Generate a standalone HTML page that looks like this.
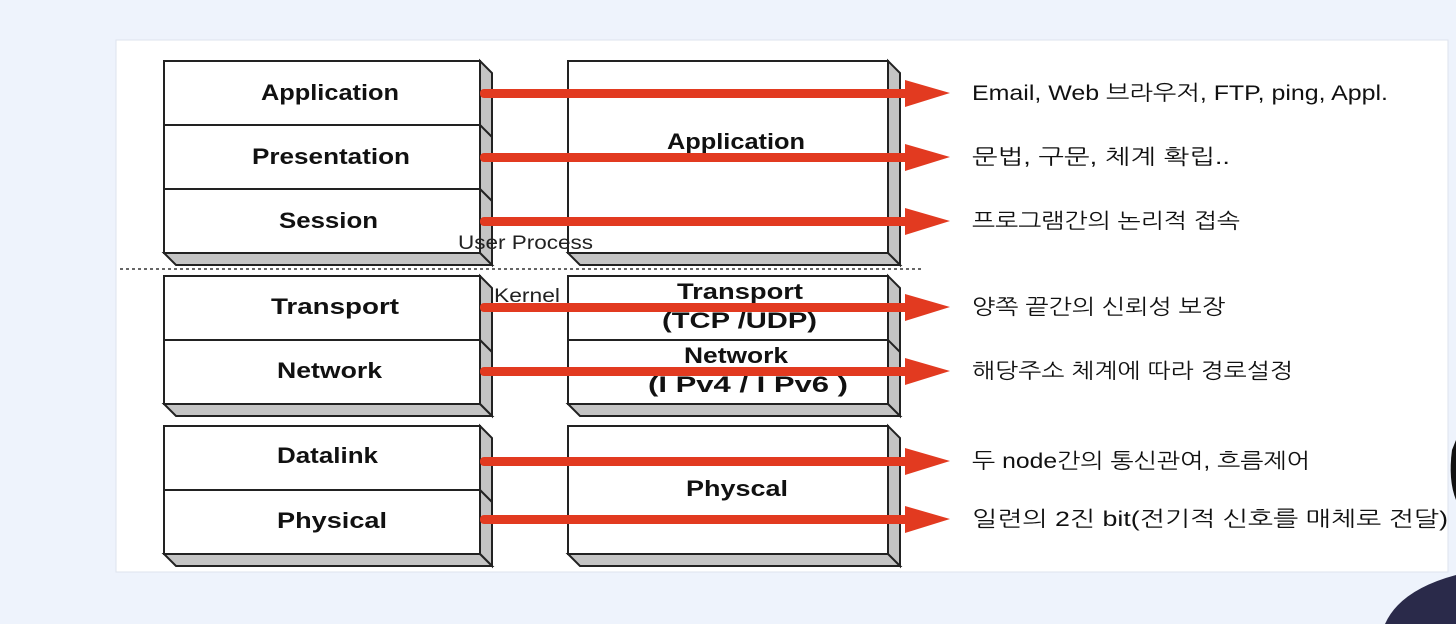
<!DOCTYPE html>
<html><head><meta charset="utf-8"><style>
html,body{margin:0;padding:0;background:#eef3fc;}
svg{display:block}
</style></head><body>
<svg width="1456" height="624" viewBox="0 0 1456 624" xmlns="http://www.w3.org/2000/svg" font-family="Liberation Sans, NanumGothic, Noto Sans CJK KR, sans-serif">
<rect x="0" y="0" width="1456" height="624" fill="#eef3fc"/>
<rect x="116" y="40" width="1332" height="532" fill="#fff" stroke="#dde3ee"/>
<g stroke="#222" stroke-width="2" fill="#c4c4c4">
 <polygon points="480,61 492,73 492,265 480,253"/><polygon points="164,253 480,253 492,265 176,265"/>
 <rect x="164" y="61" width="316" height="192" fill="#fff"/>
 <line x1="164" y1="125" x2="480" y2="125"/><line x1="164" y1="189" x2="480" y2="189"/>
 <line x1="480" y1="125" x2="492" y2="137"/><line x1="480" y1="189" x2="492" y2="201"/>
 <polygon points="480,276 492,288 492,416 480,404"/><polygon points="164,404 480,404 492,416 176,416"/>
 <rect x="164" y="276" width="316" height="128" fill="#fff"/>
 <line x1="164" y1="340" x2="480" y2="340"/><line x1="480" y1="340" x2="492" y2="352"/>
 <polygon points="480,426 492,438 492,566 480,554"/><polygon points="164,554 480,554 492,566 176,566"/>
 <rect x="164" y="426" width="316" height="128" fill="#fff"/>
 <line x1="164" y1="490" x2="480" y2="490"/><line x1="480" y1="490" x2="492" y2="502"/>
 <polygon points="888,61 900,73 900,265 888,253"/><polygon points="568,253 888,253 900,265 580,265"/>
 <rect x="568" y="61" width="320" height="192" fill="#fff"/>
 <polygon points="888,276 900,288 900,416 888,404"/><polygon points="568,404 888,404 900,416 580,416"/>
 <rect x="568" y="276" width="320" height="128" fill="#fff"/>
 <line x1="568" y1="340" x2="888" y2="340"/><line x1="888" y1="340" x2="900" y2="352"/>
 <polygon points="888,426 900,438 900,566 888,554"/><polygon points="568,554 888,554 900,566 580,566"/>
 <rect x="568" y="426" width="320" height="128" fill="#fff"/>
</g>
<line x1="120" y1="269" x2="922" y2="269" stroke="#333" stroke-width="1.5" stroke-dasharray="3,3"/>
<g font-weight="bold" font-size="22" fill="#111">
 <text x="261" y="100" textLength="138" lengthAdjust="spacingAndGlyphs">Application</text>
 <text x="252" y="164" textLength="158" lengthAdjust="spacingAndGlyphs">Presentation</text>
 <text x="279" y="228" textLength="99" lengthAdjust="spacingAndGlyphs">Session</text>
 <text x="271" y="314" textLength="128" lengthAdjust="spacingAndGlyphs">Transport</text>
 <text x="277" y="378" textLength="105" lengthAdjust="spacingAndGlyphs">Network</text>
 <text x="277" y="463" textLength="101" lengthAdjust="spacingAndGlyphs">Datalink</text>
 <text x="277" y="528" textLength="110" lengthAdjust="spacingAndGlyphs">Physical</text>
 <text x="667" y="149" textLength="138" lengthAdjust="spacingAndGlyphs">Application</text>
 <text x="677" y="299" textLength="126" lengthAdjust="spacingAndGlyphs">Transport</text>
 <text x="662" y="328" textLength="155" lengthAdjust="spacingAndGlyphs">(TCP /UDP)</text>
 <text x="684" y="363" textLength="104" lengthAdjust="spacingAndGlyphs">Network</text>
 <text x="648" y="392" textLength="200" lengthAdjust="spacingAndGlyphs">(I Pv4 / I Pv6 )</text>
 <text x="686" y="496" textLength="102" lengthAdjust="spacingAndGlyphs">Physcal</text>
</g>
<g font-size="19" fill="#222">
 <text x="458" y="249" textLength="135" lengthAdjust="spacingAndGlyphs">User Process</text>
 <text x="494" y="302" textLength="66" lengthAdjust="spacingAndGlyphs">Kernel</text>
</g>
<g fill="#e23a20" stroke="none">
 <g id="a"><rect x="480" y="89" width="430" height="9" rx="4"/><polygon points="905,80 950,93 905,107"/></g>
 <use href="#a" y="64"/><use href="#a" y="128"/><use href="#a" y="214"/><use href="#a" y="278"/><use href="#a" y="368"/><use href="#a" y="426"/>
</g>
<g font-size="21" fill="#111">
 <text x="972" y="100" textLength="416" lengthAdjust="spacingAndGlyphs">Email, Web 브라우저, FTP, ping, Appl.</text>
 <text x="972" y="164" textLength="258" lengthAdjust="spacingAndGlyphs">문법, 구문, 체계 확립..</text>
 <text x="972" y="228" textLength="268" lengthAdjust="spacingAndGlyphs">프로그램간의 논리적 접속</text>
 <text x="972" y="314" textLength="253" lengthAdjust="spacingAndGlyphs">양쪽 끝간의 신뢰성 보장</text>
 <text x="972" y="378" textLength="321" lengthAdjust="spacingAndGlyphs">해당주소 체계에 따라 경로설정</text>
 <text x="972" y="468" textLength="338" lengthAdjust="spacingAndGlyphs">두 node간의 통신관여, 흐름제어</text>
 <text x="972" y="526" textLength="476" lengthAdjust="spacingAndGlyphs">일련의 2진 bit(전기적 신호를 매체로 전달)</text>
</g>
<path d="M1385,624 Q1400,590 1456,575 L1456,624 Z" fill="#2a2a4a"/>
<path d="M1452,450 Q1448,480 1456,500 L1456,440 Z" fill="#111"/>
</svg>
</body></html>
